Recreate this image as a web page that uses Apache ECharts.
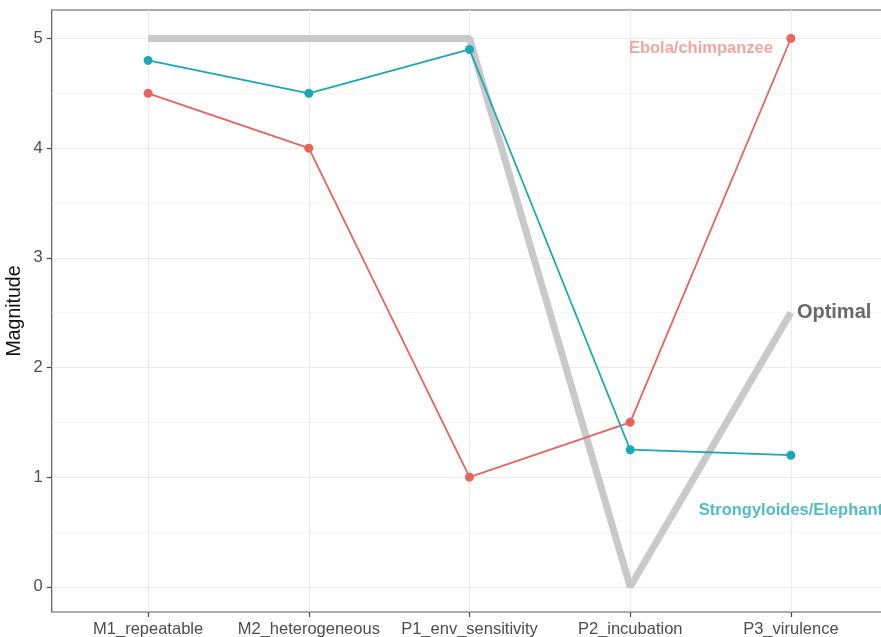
<!DOCTYPE html>
<html>
<head>
<meta charset="utf-8">
<script src="https://cdn.jsdelivr.net/npm/echarts@6/dist/echarts.min.js"></script>
<style>html,body{margin:0;padding:0;background:#fff}#c{width:881px;height:637px}</style>
</head>
<body>
<div id="c"></div>
<script>
const categories = ['M1_repeatable', 'M2_heterogeneous', 'P1_env_sensitivity', 'P2_incubation', 'P3_virulence'];
const optimal = [5, 5, 5, 0, 2.5];
const ebola = [4.5, 4, 1, 1.5, 5];
const strongyloides = [4.8, 4.5, 4.9, 1.25, 1.2];
const yTicks = [0, 1, 2, 3, 4, 5];
const yMinor = [0.5, 1.5, 2.5, 3.5, 4.5];
const xTicks = [0, 1, 2, 3, 4];
const ebolaLabel = {x: 3.44, y: 4.91, text: 'Ebola/chimpanzee'};
const strongLabel = {x: 4.0, y: 0.7, text: 'Strongyloides/Elephant'};
const optimalLabel = {x: 4, y: 2.5, text: 'Optimal'};

const RED = '#e8645b', TEAL = '#19a9b4', GREY = '#c9c9c9';
const font = 'Liberation Sans, Arial, sans-serif';
const toPts = arr => arr.map((v, i) => [i, v]);

const chart = echarts.init(document.getElementById('c'));
chart.setOption({
  animation: false,
  backgroundColor: '#fff',
  grid: {left: 51.7, top: 10, width: 835.6, height: 602, outerBoundsMode: 'none', containLabel: false,
         show: true, borderColor: '#5a5a5a', borderWidth: 1.2, backgroundColor: 'transparent'},
  xAxis: {
    type: 'value', min: -0.6, max: 4.6,
    axisLine: {show: false, onZero: false},
    axisTick: {show: true, customValues: xTicks, length: 5, lineStyle: {color: '#444', width: 1.2}},
    axisLabel: {customValues: xTicks, formatter: v => categories[Math.round(v)] || '', color: '#4d4d4d', fontSize: 16.5, fontFamily: font, margin: 9},
    splitLine: {show: false}
  },
  yAxis: {
    type: 'value', min: -0.23, max: 5.26,
    name: 'Magnitude', nameLocation: 'middle', nameGap: 27, nameRotate: 90, nameMoveOverlap: false,
    nameTextStyle: {color: '#111', fontSize: 19.5, fontFamily: font},
    axisLine: {show: false, onZero: false},
    axisTick: {show: true, customValues: yTicks, length: 5, lineStyle: {color: '#444', width: 1.2}},
    axisLabel: {customValues: yTicks, color: '#4d4d4d', fontSize: 16.5, fontFamily: font, margin: 9},
    splitLine: {show: false}
  },
  series: [
    {
      type: 'line', data: [], silent: true, z: 0,
      markLine: {
        silent: true, symbol: 'none', label: {show: false}, z: 0,
        data: [
          ...yTicks.map(v => ({yAxis: v, lineStyle: {color: '#ebebeb', width: 1.2, type: 'solid'}})),
          ...yMinor.map(v => ({yAxis: v, lineStyle: {color: '#f2f2f2', width: 0.8, type: 'solid'}})),
          ...xTicks.map(v => ({xAxis: v, lineStyle: {color: '#ebebeb', width: 1.2, type: 'solid'}}))
        ]
      }
    },
    {
      name: 'Optimal', type: 'line', data: toPts(optimal), symbol: 'none',
      lineStyle: {color: GREY, width: 7}, z: 3
    },
    {
      name: 'Ebola', type: 'line', data: toPts(ebola), symbol: 'circle', symbolSize: 9,
      lineStyle: {color: RED, width: 1.8}, itemStyle: {color: RED}, z: 4
    },
    {
      name: 'Strongyloides', type: 'line', data: toPts(strongyloides), symbol: 'circle', symbolSize: 9,
      lineStyle: {color: TEAL, width: 1.8}, itemStyle: {color: TEAL}, z: 5
    },
    {
      type: 'scatter', symbolSize: 0, z: 6, silent: true,
      data: [
        {value: [ebolaLabel.x, ebolaLabel.y], label: {show: true, position: 'inside', formatter: ebolaLabel.text, color: '#ee8f88', fontWeight: 'bold', fontSize: 16.5, fontFamily: font}},
        {value: [strongLabel.x, strongLabel.y], label: {show: true, position: 'inside', formatter: strongLabel.text, color: '#27abb6', fontWeight: 'bold', fontSize: 16.5, fontFamily: font}},
        {value: [optimalLabel.x, optimalLabel.y], label: {show: true, position: 'right', distance: 6, formatter: optimalLabel.text, color: '#444', fontWeight: 'bold', fontSize: 20, fontFamily: font}}
      ]
    }
  ]
});
</script>
</body>
</html>
